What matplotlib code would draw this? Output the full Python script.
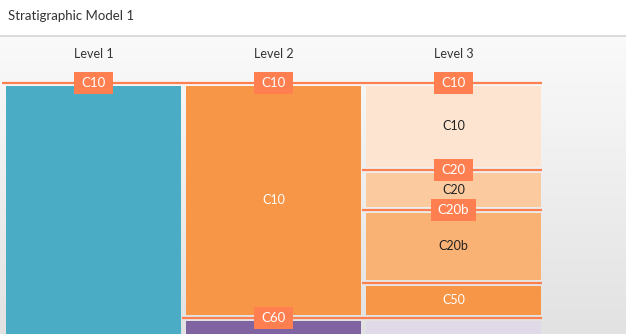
import numpy as np
import matplotlib
matplotlib.use("Agg")
import matplotlib.pyplot as plt
from matplotlib.patches import Rectangle
from matplotlib.lines import Line2D
from matplotlib.transforms import IdentityTransform

plt.rcParams['font.family'] = ['Lato', 'DejaVu Sans']

# ---------------- data ----------------
title = "Stratigraphic Model 1"
levels = ["Level 1", "Level 2", "Level 3"]

# layers per level: (name, top depth, bottom depth)
layer_level = [0, 1, 1, 2, 2, 2, 2, 2]
layer_name = ["", "C10", "", "C10", "C20", "C20b", "C50", ""]
layer_top = [0, 0, 234.5, 0, 87, 127, 200, 234.5]
layer_bottom = [260, 234.5, 260, 87, 127, 200, 234.5, 260]

# horizons: name, depth, first level they span, levels where a tag is drawn
horizon_name = ["C10", "C20", "C20b", "", "C60"]
horizon_depth = [0, 87, 127, 200, 234.5]
horizon_first = [0, 2, 2, 2, 1]
horizon_tags = [[0, 1, 2], [2], [2], [], [1]]

# ---------------- styles ----------------
layer_color = ["#4bacc6", "#f79646", "#8064a2", "#fde4d1", "#fbca9f",
               "#f9b274", "#f79646", "#e0dae8"]
layer_text = ["#333333", "white", "white", "#222222", "#222222",
              "#222222", "white", "#222222"]
coral = "#ff7f50"
W, H = 626, 334

fig = plt.figure(figsize=(W / 100, H / 100), dpi=100)

# background: white header, gradient body
bg = fig.add_axes([0, 0, 1, 1])
bg.set_axis_off()
grad = np.linspace(0, 1, 256)[:, None]
cmap = matplotlib.colors.LinearSegmentedColormap.from_list("g", ["#fafafa", "#e2e2e2"])
bg.imshow(grad, aspect="auto", cmap=cmap, extent=[0, 1, 0, 1 - 35 / H], origin="upper")
bg.add_patch(Rectangle((0, 1 - 35 / H), 1, 35 / H, color="white", lw=0))
bg.set_xlim(0, 1)
bg.set_ylim(0, 1)
fig.add_artist(Line2D([0, 1], [1 - 35.5 / H, 1 - 35.5 / H], color="#d6d6d6", lw=1.2))
fig.text(8 / W, 1 - 16 / H, title, fontsize=9.5, color="#333333", va="center", ha="left")

ax = fig.add_axes([0, 0, 1, 1])
ax.set_axis_off()
ax.patch.set_alpha(0)
pitch = 180.0
x0 = 93.5
ax.set_xlim((0 - x0) / pitch, (W - x0) / pitch)
ax.set_ylim(H - 83, -83)

colw = 175 / pitch
gap = 3

for i, lv in enumerate(levels):
    ax.text(i, -29, lv, ha="center", va="center", fontsize=9, color="#333333")

for lvl, name, top, bot, col, tc in zip(layer_level, layer_name, layer_top,
                                         layer_bottom, layer_color, layer_text):
    ax.add_patch(Rectangle((lvl - colw / 2, top + gap), colw, bot - top - 2 * gap,
                           facecolor=col, edgecolor="none", zorder=2))
    if name:
        ax.text(lvl, (top + bot) / 2, name, ha="center", va="center",
                fontsize=9, color=tc, zorder=3)

ncol = len(levels)
tag_texts = []
for name, d, first, tags in zip(horizon_name, horizon_depth, horizon_first, horizon_tags):
    ax.hlines(d, first - 0.508, ncol - 1 + 0.492, color=coral, lw=1.6, zorder=4)
    for t in tags:
        tt = ax.text(t, d, name, ha="center", va="center", fontsize=9.5,
                     color="white", zorder=6)
        tag_texts.append(tt)

fig.canvas.draw()
r = fig.canvas.get_renderer()
for tt, in zip(tag_texts):
    bb = tt.get_window_extent(r)
    cx = (bb.x0 + bb.x1) / 2
    cy = (bb.y0 + bb.y1) / 2
    w = bb.width + 14
    h = 22
    rect = Rectangle((cx - w / 2, cy - h / 2), w, h, transform=IdentityTransform(),
                     facecolor=coral, edgecolor="none", zorder=5)
    ax.add_artist(rect)

fig.savefig("out.png", dpi=100)
